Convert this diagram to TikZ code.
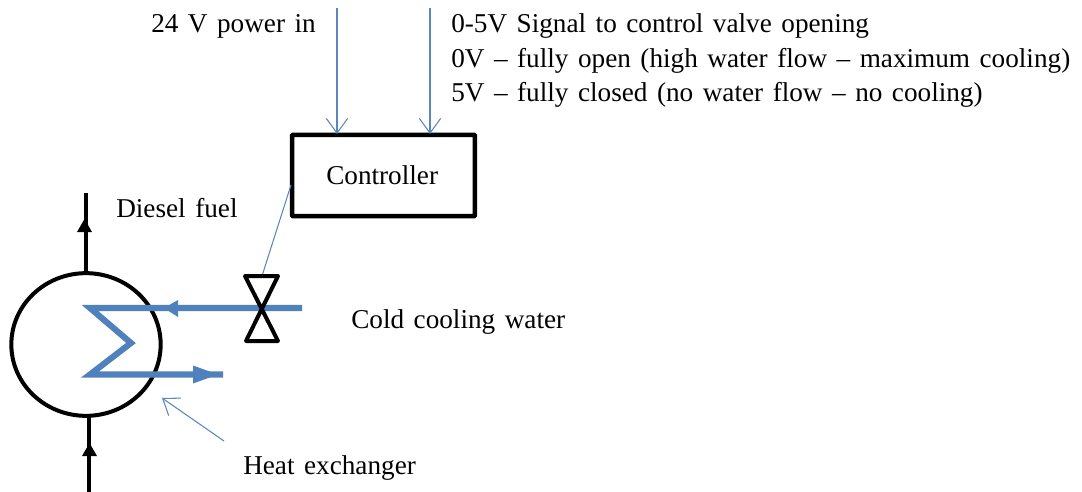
\documentclass[tikz,border=0pt]{standalone}
\usepackage{fontspec}
\setmainfont[WordSpace=1.4]{Liberation Serif}
\usetikzlibrary{arrows.meta,shapes.geometric}
\definecolor{thinblue}{RGB}{91,135,190}
\definecolor{pipeblue}{RGB}{79,129,189}
\tikzset{
  x=0.75pt,y=-0.75pt,
  label text/.style={inner sep=0pt,anchor=base west,font=\fontsize{20.4}{24}\selectfont,text=black},
  signal/.style={draw=thinblue,line width=0.8pt,-{Straight Barb[length=11pt,width=16pt,line width=0.8pt]}},
  leader/.style={draw=thinblue,line width=0.8pt},
  box/.style={draw=black,line width=3.3pt,rectangle,rounded corners=0.5pt,inner sep=0pt,minimum width=137pt,minimum height=61pt,font=\fontsize{20.4}{24}\selectfont},
  vessel/.style={draw=black,line width=3pt,ellipse,inner sep=0pt,minimum width=112pt,minimum height=107pt},
  fuel/.style={draw=black,line width=3.2pt},
  fuelhead/.style={fill=black,draw=none},
  pipe/.style={draw=pipeblue,line width=4.6pt},
  pipehead/.style={fill=pipeblue,draw=none},
  valveline/.style={draw=black,line width=3pt,line join=round}
}
\begin{document}
\begin{tikzpicture}
\useasboundingbox (0,0) rectangle (1082,492);
\node[box] (ctrl) at (383.5,175.5) {\raisebox{-1.2pt}{\hspace*{-2pt}Controller}};
\node[vessel] (hx) at (86,344.5) {};
\coordinate (pwr) at (337,8);
\coordinate (sig) at (430,8);
\coordinate (ctrlP) at (337,134);
\coordinate (ctrlS) at (430,134);
\coordinate (ctrlV) at (291,185);
\coordinate (fuelOut) at (86,193);
\coordinate (fuelIn) at (89,492);
\coordinate (hxTop) at (86,273);
\coordinate (hxBot) at (89,416);
\coordinate (vtop) at (262,276);
\coordinate (pipeIn) at (302,308);
\coordinate (pipeOut) at (223,374.5);
\coordinate (z1) at (90,308);
\coordinate (z2) at (131,343);
\coordinate (z3) at (90,374.5);
\coordinate (hxLabelEnd) at (224,441);
\coordinate (hxLabelTip) at (162,398);
\node[label text] (t1) at (151,33) {24 V power in};
\node[label text] (t2) at (451,33) {0-5V Signal to control valve opening};
\node[label text] (t3) at (451,68) {0V – fully open (high water flow – maximum cooling)};
\node[label text] (t4) at (451,102) {5V – fully closed (no water flow – no cooling)};
\node[label text] (t5) at (116,217) {Diesel fuel};
\node[label text] (t6) at (351,328) {Cold cooling water};
\node[label text] (t7) at (243,474) {Heat exchanger};
\draw[signal] (pwr) -- (ctrlP);
\draw[signal] (sig) -- (ctrlS);
\draw[leader] (ctrlV) -- (vtop);
\draw[signal] (hxLabelEnd) -- (hxLabelTip);
\draw[fuel] (hxTop) -- (fuelOut);
\draw[fuel] (fuelIn) -- (hxBot);
\fill[fuelhead] (84.5,219) -- (77,232) -- (92,232) -- cycle;
\fill[fuelhead] (89.5,443) -- (82,456) -- (97,456) -- cycle;
\draw[pipe,line join=miter] (pipeIn) -- (z1) -- (z2) -- (z3) -- (pipeOut);
\fill[pipehead] (164,308) -- (178,300) -- (178,317) -- cycle;
\fill[pipehead] (218,374.5) -- (193,365.5) -- (193,383.5) -- cycle;
\draw[valveline] (245,276) -- (278,276) -- (246,341) -- (278,341) -- cycle;
\end{tikzpicture}
\end{document}
